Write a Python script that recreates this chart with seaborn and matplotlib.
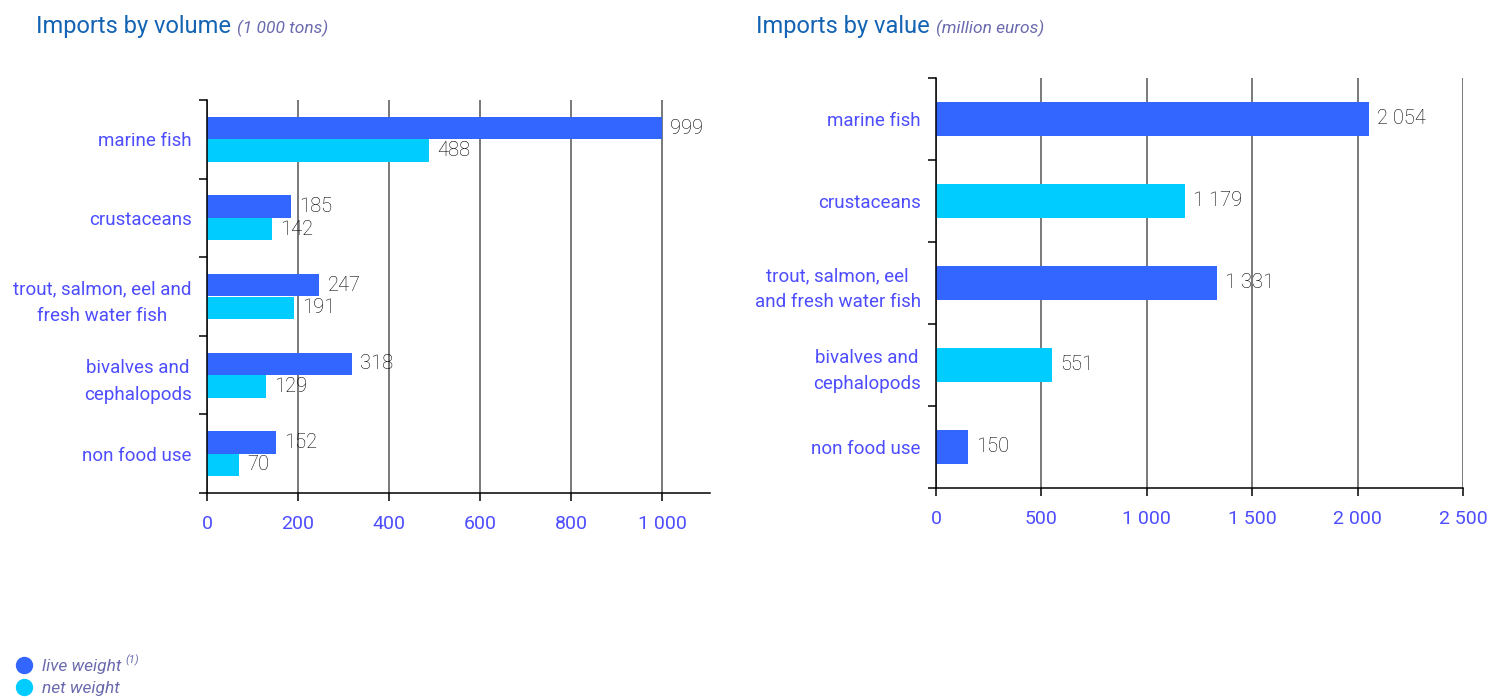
import matplotlib
matplotlib.use("Agg")
import matplotlib.pyplot as plt
from matplotlib.ticker import FuncFormatter, FixedLocator
from matplotlib.lines import Line2D
import seaborn as sns
import pandas as pd

# ---- data ----
cats_vol = ["marine fish", "crustaceans", "trout, salmon, eel and\nfresh water fish",
            "bivalves and\ncephalopods", "non food use"]
live_weight = [999, 185, 247, 318, 152]
net_weight = [488, 142, 191, 129, 70]

cats_val = ["marine fish", "crustaceans", "trout, salmon, eel\nand fresh water fish",
            "bivalves and\ncephalopods", "non food use"]
value_meur = [2054, 1179, 1331, 551, 150]
value_kind = ["live weight", "net weight", "live weight", "net weight", "live weight"]

vol_ticks = [0, 200, 400, 600, 800, 1000]
val_ticks = [0, 500, 1000, 1500, 2000, 2500]

BLUE = "#3366ff"
CYAN = "#00ccff"
LABEL = "#4d4dff"
TITLE = "#1464b4"
SUB = "#6a6aae"

sns.set_theme(style="white")
plt.rcParams['font.family'] = ['Roboto', 'DejaVu Sans']

fig = plt.figure(figsize=(14.92, 6.97), dpi=100)
ax1 = fig.add_axes([207/1492, 1-493/697, (710-207)/1492, (493-100)/697])
ax2 = fig.add_axes([936/1492, 1-488/697, (1463-936)/1492, (488-78)/697])

fmt = lambda v: f"{int(round(v)):,}".replace(",", " ")

df1 = pd.DataFrame({
    "cat": cats_vol * 2,
    "val": live_weight + net_weight,
    "kind": ["live weight"] * 5 + ["net weight"] * 5,
})
sns.barplot(data=df1, y="cat", x="val", hue="kind", orient="h", ax=ax1,
            palette={"live weight": BLUE, "net weight": CYAN}, width=0.57,
            saturation=1, legend=False, linewidth=0)
ax1.set_xlim(0, 1105)

df2 = pd.DataFrame({"cat": cats_val, "val": value_meur, "kind": value_kind})
sns.barplot(data=df2, y="cat", x="val", hue="cat", orient="h", ax=ax2,
            palette={c: (BLUE if k == "live weight" else CYAN) for c, k in zip(cats_val, value_kind)},
            width=0.41, saturation=1, legend=False, linewidth=0)
ax2.set_xlim(0, 2500)

for ax, ticks in ((ax1, vol_ticks), (ax2, val_ticks)):
    ax.set_xlabel("")
    ax.set_ylabel("")
    ax.set_xticks(ticks)
    ax.xaxis.set_major_formatter(FuncFormatter(lambda v, p: fmt(v)))
    ax.grid(axis="x", color="#555555", lw=1.1)
    ax.grid(axis="y", visible=False)
    ax.set_axisbelow(True)
    for s in ("top", "right"):
        ax.spines[s].set_visible(False)
    for s in ("left", "bottom"):
        ax.spines[s].set_color("black")
        ax.spines[s].set_linewidth(1.1)
    ax.set_ylim(4.5, -0.5)
    ax.yaxis.set_minor_locator(FixedLocator([-0.5, 0.5, 1.5, 2.5, 3.5, 4.5]))
    ax.tick_params(axis="y", which="major", length=0, pad=11, labelsize=13.5, labelcolor=LABEL)
    ax.tick_params(axis="y", which="minor", left=True, length=6, width=1.1, color="black")
    ax.tick_params(axis="x", which="major", bottom=True, length=6, width=1.1, color="black",
                   labelsize=14, labelcolor=LABEL, pad=10)
    for t in ax.get_yticklabels():
        t.set_multialignment("center")
        t.set_linespacing(1.6)
    for cont in ax.containers:
        ax.bar_label(cont, labels=[fmt(v) for v in cont.datavalues], padding=6,
                     fontsize=14.5, color="#000000", fontweight="light")

# titles
def title(x, y, main, sub):
    t = fig.text(x, y, main, color=TITLE, fontsize=17, va="center", ha="left")
    fig.canvas.draw()
    bb = t.get_window_extent()
    fig.text((bb.x1 + 6) / 1492, y - 0.002, sub, color=SUB, fontsize=12.5, style="italic",
             va="center", ha="left")

title(36/1492, 1-27/697, "Imports by volume", "(1 000 tons)")
title(756/1492, 1-27/697, "Imports by value", "(million euros)")

# legend
handles = [Line2D([], [], marker="o", ls="", markersize=11.5, color=BLUE),
           Line2D([], [], marker="o", ls="", markersize=11.5, color=CYAN)]
leg = fig.legend(handles, ["live weight", "net weight"], loc="lower left",
                 bbox_to_anchor=(0.001, -0.016), frameon=False, handletextpad=0.45,
                 labelspacing=0.38, handlelength=1.2, borderaxespad=0.3,
                 prop={"size": 12.5, "style": "italic"})
for t in leg.get_texts():
    t.set_color(SUB)
fig.canvas.draw()
bb = leg.get_texts()[0].get_window_extent()
fig.text((bb.x1 + 4) / 1492, (bb.y1 - 7) / 697, "(1)", color=SUB, fontsize=8,
         style="italic", va="bottom", ha="left")

fig.savefig("out.png", dpi=100)
